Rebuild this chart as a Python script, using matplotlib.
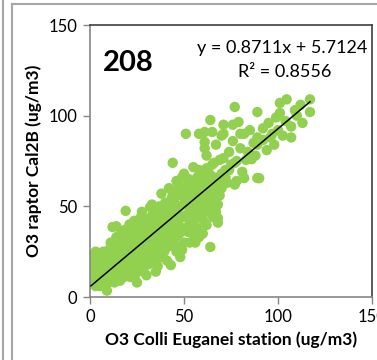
import matplotlib
matplotlib.use("Agg")
import matplotlib.pyplot as plt
from matplotlib.lines import Line2D

plt.rcParams['font.family'] = ['Lato', 'DejaVu Sans']

# Dati: (Colli Euganei, raptor Cal2B)
colli_euganei = [
    # x 0-10
    0.5, 0.5, 1, 1, 1.5, 2, 2, 2, 3, 3, 3, 3.5, 4, 4, 4.5, 5, 5, 5.5, 6, 6, 6.5, 7, 7, 7.5, 8, 8, 8.5, 9, 9, 9.5, 10, 10, 10,
    # x 10-25
    11, 11, 11.5, 12, 12, 12.5, 13, 13, 13.5, 14, 14, 14.5, 15, 15, 15.5, 16, 16, 16.5, 17, 17, 17.5, 18, 18, 18.5,
    19, 19, 19.5, 20, 20, 20.5, 21, 21, 21.5, 22, 22, 22.5, 23, 23, 23.5, 24, 24, 24.5, 25, 25, 25.5, 16, 19, 24,
    # x 25-40
    26, 26, 26.5, 27, 27, 27.6, 28, 28, 28.5, 29, 29, 29.5, 30, 30, 30.5, 31, 31, 31.5, 32, 32, 32.5, 33, 33, 33.5,
    34, 34, 34.5, 35, 35, 35.5, 36, 36, 36.5, 37, 37, 37.5, 38, 38, 38.5, 39, 39, 39.5, 40, 40, 40, 30, 35, 28, 33, 37,
    # x 40-55
    41, 41, 41.5, 42, 42, 42.5, 43, 43, 43.5, 44, 44, 44, 44.5, 45, 45, 45.5, 46, 46, 46.5, 47, 47, 47.5, 48, 48, 48.5,
    49, 49, 49.5, 50, 50, 50.5, 51, 51.5, 51, 52, 52, 52.5, 53, 53, 53, 53.5, 54, 54, 54.5, 55, 55, 55, 42, 46, 49, 44, 50, 48,
    # x 55-72
    56, 56, 56.5, 57, 57, 57.5, 58, 58, 58, 58.5, 59, 59, 59.5, 60, 60, 60.5, 61, 61, 61, 61, 61.5, 62, 62, 62, 62.5,
    63, 63, 63.5, 64, 64, 64, 64, 65, 65, 65, 65.5, 66, 66, 67, 67, 67, 68, 68, 68, 68, 69, 69, 70, 70, 70, 71, 71, 71,
    72, 72, 58, 60, 62, 66, 56,
    # x 72-90
    73, 74, 74, 75, 76, 77, 77, 77, 78, 78, 79, 80, 81, 82, 82, 83, 84, 85, 86, 87, 88, 89, 89, 89, 89, 90, 76, 80,
    # x 90-118
    92, 92, 94, 95, 97, 98, 99, 100, 101, 101, 102.5, 104, 104.6, 107, 107, 109, 110, 112, 113, 117, 117, 96,
]
raptor_cal2b = [
    # x 0-10
    10, 16, 13, 20, 8, 12, 17, 23, 15, 25, 6, 11, 19, 9, 14, 22, 6, 12, 16, 9, 20, 13, 25, 6, 17, 10, 22, 3.5, 14, 19, 8, 26, 13,
    # x 10-25
    17, 30, 10, 22, 38.6, 14, 27, 8, 19, 39, 33, 12, 24, 16, 29, 9, 20, 35, 14, 25, 30, 18, 11, 37,
    47.5, 23, 28, 15, 33, 20, 40, 26, 11, 30, 18, 36, 23, 14, 42, 27, 41, 19, 33, 8, 24, 25, 32, 12,
    # x 25-40
    29, 38, 16, 22, 44, 47, 33, 26, 14, 38, 20, 30, 43, 25, 35, 18, 29, 40, 49.6, 23, 33, 51, 27, 38,
    44, 20, 31, 36, 25, 47, 40, 17, 30, 34, 50, 22, 57, 28, 42, 36, 47, 25, 32, 40, 52, 12, 14, 40, 45, 42,
    # x 40-55
    44, 20, 35, 48, 28, 40, 53, 17.6, 54.6, 74, 30, 37, 46, 52, 42, 33, 58, 25, 48, 40, 62, 35, 22, 50, 56,
    66, 44, 38, 60, 30, 52, 90, 61, 45, 36, 55, 65, 30, 40.8, 48, 58, 44, 63, 35, 71.6, 52, 40, 60, 64, 26, 57, 68, 28,
    # x 55-72
    47, 60, 54, 66, 38, 50, 90, 70, 44, 57, 62, 51, 46, 67, 55, 42, 91, 85.5, 82, 60, 50, 71, 39.7, 55, 64,
    47, 58, 68, 97.6, 50, 27.6, 62, 91, 73, 56, 44, 66, 52, 84, 60, 47, 51, 41, 43.5, 64, 75.6, 56, 89, 68, 60, 95, 90, 76.6,
    66, 70, 33, 35, 78, 74, 30,
    # x 72-90
    63, 70, 80, 73, 86, 62, 74, 104.8, 64, 75, 96.5, 82, 69, 65.6, 90, 75.6, 80, 92, 76, 85, 78, 88, 84, 65.6, 102, 65.5, 95, 90,
    # x 90-118
    93, 86.6, 81, 96, 90, 84, 99, 92, 107, 101.5, 89, 97, 109, 94, 88, 103, 100, 106, 96, 109, 102, 88,
]

# Retta di tendenza (valori dell'etichetta)
pendenza = 0.8711
intercetta = 5.7124

fig = plt.figure(figsize=(3.77, 3.60), dpi=100)
ax = fig.add_axes([90 / 377, 1 - 297 / 360, 282 / 377, 272 / 360])

ax.scatter(colli_euganei, raptor_cal2b, s=56, color='#92D050', edgecolors='none', zorder=2)

x_min, x_max = min(colli_euganei), max(colli_euganei)
ax.plot([x_min, x_max], [pendenza * x_min + intercetta, pendenza * x_max + intercetta],
        color='black', lw=1.1, zorder=3)

ax.set_xlim(0, 150)
ax.set_ylim(0, 150)
ax.set_xticks([0, 50, 100, 150])
ax.set_yticks([0, 50, 100, 150])
ax.tick_params(direction='out', length=5, width=1, color='#868686', labelsize=12, pad=4)
for lab in ax.get_xticklabels():
    lab.set_clip_on(False)

ax.spines['left'].set_color('#868686')
ax.spines['bottom'].set_color('#868686')
ax.spines['top'].set_color('#404040')
ax.spines['right'].set_color('#404040')
for s in ax.spines.values():
    s.set_linewidth(1.2)

ax.set_xlabel('O3 Colli Euganei station (ug/m3)', fontsize=12.5, fontweight='bold', labelpad=4)
ax.set_ylabel('O3 raptor Cal2B (ug/m3)', fontsize=12.5, fontweight='bold', labelpad=5)

ax.text(0.045, 0.86, '208', transform=ax.transAxes, fontsize=21, fontweight='bold', va='center')
ax.text(0.985, 0.915, 'y = 0.8711x + 5.7124', transform=ax.transAxes, fontsize=13, ha='right', va='center')
ax.text(0.69, 0.827, 'R² = 0.8556', transform=ax.transAxes, fontsize=13, ha='center', va='center')

# cornice grigia del foglio
grigio = '#a6a6a6'
fig.add_artist(Line2D([2.5 / 377, 2.5 / 377], [0, 1], color=grigio, lw=1.5))
fig.add_artist(Line2D([11.5 / 377, 11.5 / 377], [0, 1 - 4 / 360], color=grigio, lw=1.5))
fig.add_artist(Line2D([11.5 / 377, 1], [1 - 4 / 360, 1 - 4 / 360], color=grigio, lw=1.5))

fig.savefig('out.png', dpi=100)
